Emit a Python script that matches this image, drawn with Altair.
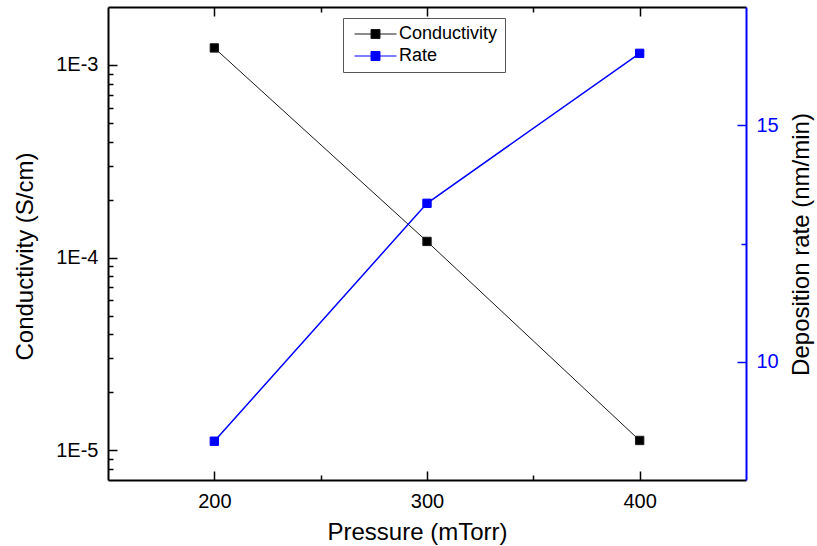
import altair as alt
import pandas as pd

# Measured values
pressure = [200, 300, 400]                    # mTorr
conductivity = [1.226e-3, 1.213e-4, 1.123e-5]  # S/cm
rate = [8.32, 13.35, 16.52]                   # nm/min

series_names = ["Conductivity", "Rate"]
fill_colors = ["#000000", "#0000ff"]
line_colors = ["#1a1a1a", "#0000ff"]

# Axis tick positions
x_major = [200, 300, 400]
x_minor = [250, 350]
cond_major = [1e-5, 1e-4, 1e-3]
cond_minor = [m * 10.0 ** e for e in (-6, -5, -4) for m in range(2, 10)]
cond_minor = [v for v in cond_minor if 7.5e-6 < v < 1.5e-3]
rate_major = [10, 15]
rate_minor = [12.5]

FONT = "Liberation Sans"
BLUE = "#0000ff"
MAJOR_LEN, MINOR_LEN = 9, 5

cond_df = pd.DataFrame({"pressure": pressure, "conductivity": conductivity,
                        "series": series_names[0]})
rate_df = pd.DataFrame({"pressure": pressure, "rate": rate,
                        "series": series_names[1]})

fill_scale = alt.Scale(domain=series_names, range=fill_colors)
stroke_scale = alt.Scale(domain=series_names, range=line_colors)
x_scale = alt.Scale(domain=[150, 450], nice=False, zero=False)
cond_scale = alt.Scale(type="log", domain=[7e-6, 2e-3], nice=False)
rate_scale = alt.Scale(domain=[7.5, 17.5], nice=False, zero=False)

# line - square - line legend glyph
glyph = "M-1,0H2.67M4.67,0H8.33M2.67,-1H4.67V1H2.67Z"
legend = alt.Legend(
    orient="none", legendX=235, legendY=11, title=None,
    symbolType=glyph, symbolSize=81, symbolStrokeWidth=1, symbolOpacity=1,
    labelFont=FONT, labelFontSize=18, labelColor="black", labelOffset=31,
    padding=7, rowPadding=4, strokeColor="#555555", fillColor="white",
)

base_axis = dict(grid=False, labelFont=FONT, labelFontSize=20, titleFont=FONT,
                 titleFontSize=24, titleFontWeight="normal", titleColor="black",
                 labelOverlap=False, labelFlush=False)


def frame_axis(orient, color="black", **kw):
    # the plot border line (plus the axis title) on one side
    return alt.Axis(orient=orient, domain=True, domainColor=color,
                    domainWidth=2, ticks=False, labels=False,
                    **{"title": None, **kw}, **base_axis)


def tick_axis(orient, values, length, color="black", **kw):
    # ticks pointing into the plot: the axis is shifted inward by the tick
    # length so the ticks run from the border toward the data
    opts = dict(labels=False)
    opts.update(kw)
    return alt.Axis(orient=orient, values=values, offset=-length,
                    tickSize=length, tickWidth=1.5, tickColor=color,
                    domain=False, title=None, labelColor=color,
                    **opts, **base_axis)


decade_label = "'1E' + round(log(datum.value)/LN10)"

x_axes = {
    "bottom_frame": frame_axis("bottom", title="Pressure (mTorr)", titleX=309,
                               titleY=40, titleBaseline="top",
                               titleAlign="center"),
    "bottom_major": tick_axis("bottom", x_major, MAJOR_LEN, labels=True,
                              labelPadding=11),
    "bottom_minor": tick_axis("bottom", x_minor, MINOR_LEN),
    "top_frame": frame_axis("top"),
    "top_major": tick_axis("top", x_major, MAJOR_LEN),
    "top_minor": tick_axis("top", x_minor, MINOR_LEN),
}
cond_axes = {
    "frame": frame_axis("left", title="Conductivity (S/cm)", titleX=-71,
                        titleY=249, titleAngle=270, titleBaseline="bottom",
                        titleAlign="center"),
    "major": tick_axis("left", cond_major, MAJOR_LEN, labels=True,
                       labelExpr=decade_label, labelPadding=10),
    "minor": tick_axis("left", cond_minor, MINOR_LEN),
}
rate_axes = {
    "frame": frame_axis("right", color=BLUE, title="Deposition rate (nm/min)",
                        titleX=43, titleY=237, titleAngle=270,
                        titleBaseline="top", titleAlign="center"),
    "major": tick_axis("right", rate_major, MAJOR_LEN, color=BLUE,
                       labels=True, labelPadding=10),
    "minor": tick_axis("right", rate_minor, MINOR_LEN, color=BLUE),
}

stroke_enc = alt.Stroke("series:N", scale=stroke_scale, legend=legend)
fill_enc = alt.Fill("series:N", scale=fill_scale, legend=legend)


def xe(name):
    return alt.X("pressure:Q", scale=x_scale, axis=x_axes[name])


def cond_y(name):
    return alt.Y("conductivity:Q", scale=cond_scale, axis=cond_axes[name])


def rate_y(name):
    return alt.Y("rate:Q", scale=rate_scale, axis=rate_axes[name])


# Conductivity (left, log axis)
cond_line = alt.Chart(cond_df).mark_line(strokeWidth=1).encode(
    x=xe("bottom_frame"), y=cond_y("frame"), stroke=stroke_enc)
cond_pts = alt.Chart(cond_df).mark_square(
    size=70, filled=True, opacity=1, strokeWidth=1).encode(
    x=xe("bottom_major"), y=cond_y("major"), fill=fill_enc, stroke=stroke_enc)
cond_guides = alt.Chart(cond_df).mark_point(opacity=0).encode(
    x=xe("bottom_minor"), y=cond_y("minor"))
left = alt.layer(cond_line, cond_pts, cond_guides).resolve_axis(
    x="independent", y="independent")

# Deposition rate (right, linear axis)
rate_line = alt.Chart(rate_df).mark_line(strokeWidth=1.5).encode(
    x=xe("top_frame"), y=rate_y("frame"), stroke=stroke_enc)
rate_pts = alt.Chart(rate_df).mark_square(
    size=70, filled=True, opacity=1, strokeWidth=1).encode(
    x=xe("top_major"), y=rate_y("major"), fill=fill_enc, stroke=stroke_enc)
rate_guides = alt.Chart(rate_df).mark_point(opacity=0).encode(
    x=xe("top_minor"), y=rate_y("minor"))
right = alt.layer(rate_line, rate_pts, rate_guides).resolve_axis(
    x="independent", y="independent")

chart = (
    alt.layer(left, right)
    .resolve_scale(y="independent")
    .resolve_axis(x="independent", y="independent")
    .properties(
        width=638, height=473,
        autosize=alt.AutoSizeParams(type="none"),
        padding={"left": 108, "top": 7, "right": 71, "bottom": 66},
        background="white",
    )
    .configure_view(strokeWidth=0)
)

chart.save("out.html", embed_options={"renderer": "svg", "actions": False})
